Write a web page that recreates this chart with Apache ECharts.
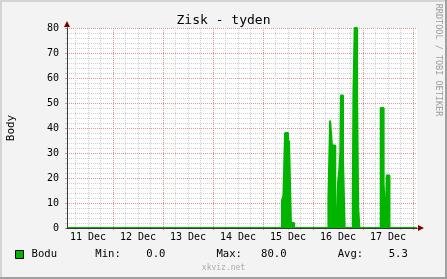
<!DOCTYPE html>
<html><head><meta charset="utf-8">
<script src="https://cdn.jsdelivr.net/npm/echarts@6/dist/echarts.min.js"></script>
<style>html,body{margin:0;padding:0;background:#F3F3F3}#c{width:447px;height:279px}</style>
</head><body><div id="c"></div>
<script>
// ---- data (x in hours since 11 Dec 00:00) ----
const chartTitle = 'Zisk - tyden';
const seriesName = 'Bodu';
const yAxisName = 'Body';
const hourStart = 1.92, hourEnd = 169.92;
const changeHours  = [1.92, 105.1, 105.8, 106.6, 108.0, 108.5, 109.4, 110.9,
                      127.4, 128.2, 129.1, 130.7, 131.4, 132.0, 132.7, 133.1, 133.4, 134.4, 135.2,
                      139.1, 139.4, 140.0, 141.2, 141.7, 142.3,
                      152.5, 153.9, 154.8, 155.4, 156.7, 169.92];
const changeValues = [0, 11, 13, 38, 0, 35, 2, 0,
                      12, 43, 33, 7, 0, 18, 24, 30, 53, 28, 0,
                      14, 54, 80, 52, 8, 0,
                      48, 18, 0, 21, 0, 0];
const dayLabels = ['11 Dec', '12 Dec', '13 Dec', '14 Dec', '15 Dec', '16 Dec', '17 Dec'];
const dayLabelHours = [12, 36, 60, 84, 108, 132, 156];
const midnightHours = [24, 48, 72, 96, 120, 144, 168];
const quarterDayHours = [6, 12, 18, 30, 36, 42, 54, 60, 66, 78, 84, 90, 102, 108, 114, 126, 132, 138, 150, 156, 162];
const yMin = 0, yMax = 80, yStep = 10;
const statMin = '0.0', statMax = '80.0', statAvg = '5.3';
const watermark = 'xkviz.net';
const sideText = 'RRDTOOL / TOBI OETIKER';

// ---- style ----
const MONO = '"DejaVu Sans Mono", monospace';
const GREEN = '#00B400';
const AXIS = '#3A3A3A';
const ARROW = '#7F0000';
const MGRID = '#E49090';
const GRID = '#CFCFCF';

const chart = echarts.init(document.getElementById('c'), null, {renderer: 'canvas'});
const base = {type: 'value', min: hourStart, max: hourEnd, position: 'bottom', offset: 0,
  axisLine: {show: false}, axisTick: {show: false}, axisLabel: {show: false}, splitLine: {show: false}};
const ybase = {type: 'value', min: yMin, max: yMax, interval: yStep, position: 'left', offset: 0,
  axisLine: {show: false}, axisTick: {show: false}, axisLabel: {show: false}, splitLine: {show: false}};

chart.setOption({
  animation: false,
  backgroundColor: '#F3F3F3',
  title: {text: chartTitle, left: 'center', top: 9,
    textStyle: {fontFamily: MONO, fontSize: 13, fontWeight: 'normal', color: '#000'}},
  grid: {left: 67, top: 28, width: 350, height: 200, show: true, backgroundColor: '#FFFFFF', borderWidth: 0,
    outerBoundsMode: 'none', containLabel: false},
  xAxis: [
    Object.assign({}, base, {z: 0,
      axisTick: {show: true, customValues: quarterDayHours, length: 2, lineStyle: {color: GRID}},
      splitLine: {show: true, lineStyle: {color: GRID, type: [1, 1]}}}),
    Object.assign({}, base, {z: 0,
      axisTick: {show: true, customValues: midnightHours, length: 2, lineStyle: {color: MGRID}},
      splitLine: {show: true, lineStyle: {color: MGRID, type: [1, 1]}},
      axisLabel: {show: true, customValues: dayLabelHours, margin: 4,
        fontFamily: MONO, fontSize: 10, color: '#000',
        formatter: v => dayLabels[dayLabelHours.indexOf(Math.round(v))] || ''}}),
    Object.assign({}, base, {z: 10,
      axisLine: {show: true, onZero: false, symbol: ['none', 'triangle'], symbolSize: [6, 6], symbolOffset: [0, 4],
        lineStyle: {color: ARROW, width: 1}}}),
    Object.assign({}, base, {z: 11,
      axisLine: {show: true, onZero: false, lineStyle: {color: AXIS, width: 1}}})
  ],
  yAxis: [
    Object.assign({}, ybase, {z: 0,
      name: yAxisName, nameLocation: 'middle', nameRotate: 90, nameGap: 50,
      nameTextStyle: {fontFamily: MONO, fontSize: 11, color: '#000'},
      axisTick: {show: true, length: 2, lineStyle: {color: MGRID}},
      minorTick: {show: true, splitNumber: 5, length: 2, lineStyle: {color: GRID}},
      axisLabel: {show: true, margin: 8, fontFamily: MONO, fontSize: 10, color: '#000'},
      splitLine: {show: true, lineStyle: {color: MGRID, type: [1, 1]}},
      minorSplitLine: {show: true, lineStyle: {color: GRID, type: [1, 1]}}}),
    Object.assign({}, ybase, {z: 10,
      axisLine: {show: true, onZero: false, symbol: ['none', 'triangle'], symbolSize: [6, 6], symbolOffset: [0, 4],
        lineStyle: {color: ARROW, width: 1}}}),
    Object.assign({}, ybase, {z: 11,
      axisLine: {show: true, onZero: false, lineStyle: {color: AXIS, width: 1}}})
  ],
  legend: {left: 15, top: 249, padding: 0, icon: 'rect', itemWidth: 8, itemHeight: 8, selectedMode: false,
    itemStyle: {borderColor: '#000', borderWidth: 1},
    textStyle: {fontFamily: MONO, fontSize: 10.6, color: '#000', padding: [0, 0, 0, 3]},
    formatter: n => n + '      Min:' + statMin.padStart(7) + '        Max:' + statMax.padStart(7) +
      '        Avg:' + statAvg.padStart(7),
    data: [seriesName]},
  series: [{
    type: 'line', name: seriesName, step: 'end', xAxisIndex: 0, yAxisIndex: 0,
    data: changeHours.map((h, i) => [h, changeValues[i]]),
    symbol: 'none', showSymbol: false, z: 3,
    lineStyle: {color: GREEN, width: 2}, itemStyle: {color: GREEN},
    areaStyle: {color: GREEN, opacity: 1}
  }],
  graphic: [
    {type: 'text', x: 223.5, y: 268, style: {text: watermark, fill: '#ABABAB',
      font: '8px ' + MONO, align: 'center', verticalAlign: 'middle'}},
    {type: 'text', x: 438, y: 60, rotation: -Math.PI / 2, style: {text: sideText, fill: '#9C9C9C',
      font: '8.5px ' + MONO, align: 'center', verticalAlign: 'middle'}},
    {type: 'rect', shape: {x: 0, y: 0, width: 447, height: 2}, style: {fill: '#D4D4D4'}, silent: true},
    {type: 'rect', shape: {x: 0, y: 0, width: 2, height: 279}, style: {fill: '#D4D4D4'}, silent: true},
    {type: 'rect', shape: {x: 445, y: 0, width: 2, height: 279}, style: {fill: '#A0A0A0'}, silent: true},
    {type: 'rect', shape: {x: 0, y: 277, width: 447, height: 2}, style: {fill: '#A0A0A0'}, silent: true}
  ]
});
</script></body></html>
